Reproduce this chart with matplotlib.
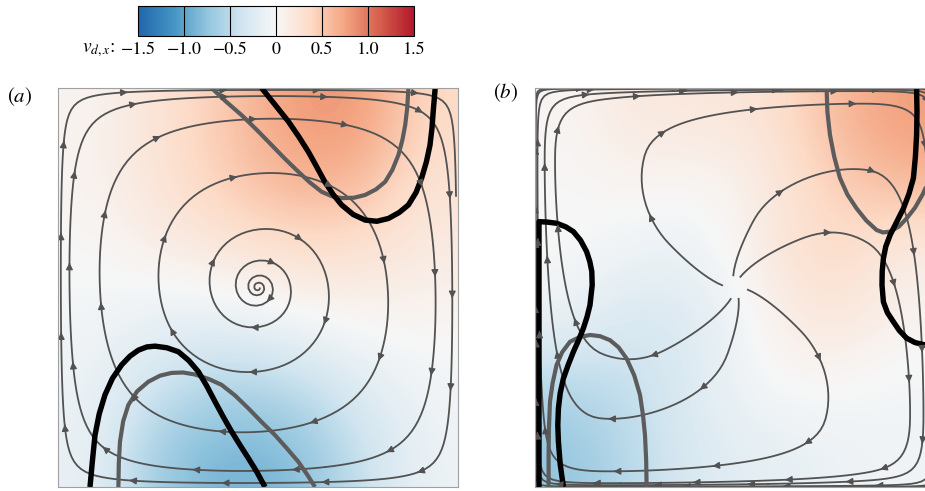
import numpy as np
import matplotlib
matplotlib.use('Agg')
import matplotlib.pyplot as plt
from matplotlib.colors import Normalize, LinearSegmentedColormap
from matplotlib.cm import ScalarMappable
from matplotlib.patches import FancyArrowPatch

plt.rcParams['font.family'] = ['STIXGeneral', 'DejaVu Serif']
plt.rcParams['mathtext.fontset'] = 'stix'

# colour bar
cb_ticks = [-1.5, -1.0, -0.5, 0, 0.5, 1.0, 1.5]
cb_labels = ['\u22121.5', '\u22121.0', '\u22120.5', '0', '0.5', '1.0', '1.5']
cb_colors = ['#2166ac', '#4393c3', '#92c5de', '#d1e5f0', '#f7f7f7',
             '#fddbc7', '#f4a582', '#d6604d', '#b2182b']

# v_dx, rows top -> bottom, cols left -> right
va_field = np.array([
    [0.05, 0.25, 0.50, 0.80, 0.85, 0.35],
    [0.05, 0.25, 0.45, 0.65, 0.60, 0.25],
    [0.00, 0.10, 0.20, 0.28, 0.28, 0.15],
    [-0.05, -0.15, -0.15, -0.05, 0.04, 0.04],
    [-0.10, -0.40, -0.60, -0.52, -0.25, -0.06],
    [-0.12, -0.70, -0.90, -0.85, -0.45, -0.10],
])
vb_field = np.array([
    [0.03, 0.20, 0.20, 0.25, 0.60, 0.80],
    [0.00, 0.06, 0.00, 0.15, 0.45, 0.60],
    [0.00, -0.12, -0.12, 0.20, 0.38, 0.12],
    [-0.12, -0.32, -0.25, 0.06, 0.25, 0.06],
    [-0.55, -0.45, -0.20, 0.00, 0.00, -0.06],
    [-0.75, -0.50, -0.25, -0.18, -0.12, -0.06],
])

# flow on a 7x7 grid (rows bottom -> top)
ua = np.array([
    [0, -.5, -.866, -1, -.866, -.5, 0],
    [0, -.463, -.780, -.866, -.720, -.403, 0],
    [0, -.303, -.486, -.5, -.381, -.198, 0],
    [0, -.061, -.061, 0, .061, .061, 0],
    [0, .198, .381, .5, .486, .303, 0],
    [0, .403, .720, .866, .780, .463, 0],
    [0, .5, .866, 1, .866, .5, 0],
])
va = np.array([
    [0, 0, 0, 0, 0, 0, 0],
    [.5, .403, .198, -.061, -.303, -.463, -.5],
    [.866, .720, .381, -.061, -.486, -.780, -.866],
    [1, .866, .5, 0, -.5, -.866, -1],
    [.866, .780, .486, .061, -.381, -.720, -.866],
    [.5, .463, .303, .061, -.198, -.403, -.5],
    [0, 0, 0, 0, 0, 0, 0],
])
ub = np.array([
    [0, -.5, -.866, -1, -.866, -.5, 0],
    [0, -.325, -.452, -.346, -.148, -.021, 0],
    [0, -.3625, -.3275, -.075, .1975, .1625, 0],
    [0, -.303, -.303, 0, .303, .303, 0],
    [0, -.1625, -.1975, .075, .3275, .3625, 0],
    [0, .021, .148, .346, .452, .325, 0],
    [0, .5, .866, 1, .866, .5, 0],
])
vb = np.array([
    [0, 0, 0, 0, 0, 0, 0],
    [.5, .021, -.1625, -.303, -.3625, -.325, -.5],
    [.866, .148, -.1975, -.303, -.3275, -.452, -.866],
    [1, .346, .075, 0, -.075, -.346, -1],
    [.866, .452, .3275, .303, .1975, -.148, -.866],
    [.5, .325, .3625, .303, .1625, -.021, -.5],
    [0, 0, 0, 0, 0, 0, 0],
])

# streamline seeds
a_seeds = [(0.505, 0.50)]
b_seeds = [(0.515, 0.50), (0.485, 0.50), (0.4955, 0.5143), (0.4971, 0.4853),
           (0.5046, 0.5143), (0.5068, 0.4866)]

# thick contour lines (x, y)
a_black_top = [(0.509, 1.0), (0.545, 0.955), (0.576, 0.916), (0.602, 0.878), (0.626, 0.840),
               (0.647, 0.802), (0.667, 0.765), (0.688, 0.733), (0.709, 0.707), (0.738, 0.683),
               (0.768, 0.669), (0.797, 0.666), (0.826, 0.673), (0.853, 0.688), (0.876, 0.707),
               (0.895, 0.738), (0.909, 0.774), (0.921, 0.815), (0.930, 0.857), (0.935, 0.900),
               (0.938, 0.941), (0.943, 1.0)]
a_gray_top = [(0.384, 1.0), (0.420, 0.966), (0.459, 0.932), (0.497, 0.895), (0.534, 0.857),
              (0.568, 0.822), (0.601, 0.790), (0.630, 0.763), (0.659, 0.740), (0.684, 0.729),
              (0.709, 0.724), (0.740, 0.725), (0.768, 0.732), (0.795, 0.746), (0.818, 0.765),
              (0.836, 0.795), (0.851, 0.832), (0.861, 0.870), (0.868, 0.907), (0.873, 0.950),
              (0.876, 1.0)]
a_black_bot = [(0.080, 0.0), (0.086, 0.065), (0.0925, 0.130), (0.103, 0.183), (0.1175, 0.231),
               (0.136, 0.272), (0.159, 0.306), (0.180, 0.328), (0.201, 0.343), (0.222, 0.351),
               (0.2425, 0.353), (0.272, 0.349), (0.301, 0.339), (0.327, 0.317), (0.351, 0.289),
               (0.372, 0.253), (0.3925, 0.214), (0.413, 0.176), (0.434, 0.139), (0.455, 0.105),
               (0.476, 0.072), (0.497, 0.038), (0.5175, 0.0)]
a_gray_bot = [(0.151, 0.0), (0.152, 0.060), (0.155, 0.114), (0.163, 0.165), (0.176, 0.206),
              (0.198, 0.240), (0.226, 0.264), (0.255, 0.279), (0.284, 0.286), (0.3125, 0.287),
              (0.3425, 0.282), (0.376, 0.271), (0.409, 0.256), (0.443, 0.229), (0.476, 0.197),
              (0.509, 0.163), (0.5425, 0.130), (0.572, 0.097), (0.601, 0.063), (0.623, 0.031),
              (0.6425, 0.0)]
b_black_left = [(0.010, 0.0), (0.010, 0.33), (0.010, 0.665), (0.030, 0.664), (0.054, 0.661),
                (0.077, 0.652), (0.096, 0.640), (0.114, 0.618), (0.129, 0.590), (0.137, 0.565),
                (0.142, 0.540), (0.143, 0.506), (0.1375, 0.456), (0.130, 0.426), (0.121, 0.398),
                (0.109, 0.368), (0.096, 0.339), (0.083, 0.306), (0.071, 0.272), (0.063, 0.235),
                (0.0585, 0.197), (0.057, 0.155), (0.0585, 0.114), (0.063, 0.057), (0.071, 0.0)]
b_black_right = [(0.954, 1.0), (0.955, 0.94), (0.954, 0.882), (0.951, 0.828), (0.946, 0.774),
                 (0.935, 0.735), (0.921, 0.698), (0.904, 0.664), (0.888, 0.632), (0.877, 0.603),
                 (0.871, 0.573), (0.868, 0.540), (0.8675, 0.506), (0.871, 0.464), (0.881, 0.437),
                 (0.896, 0.414), (0.911, 0.392), (0.929, 0.373), (0.950, 0.362), (0.975, 0.356),
                 (1.0, 0.352)]
b_gray_top = [(0.729, 1.0), (0.731, 0.94), (0.7375, 0.882), (0.748, 0.828), (0.7625, 0.774),
              (0.781, 0.733), (0.804, 0.698), (0.828, 0.668), (0.854, 0.644), (0.870, 0.638),
              (0.8875, 0.640), (0.910, 0.653), (0.929, 0.673), (0.950, 0.700), (0.970, 0.735),
              (0.990, 0.780), (1.0, 0.800)]
b_gray_bot = [(0.279, 0.0), (0.278, 0.065), (0.275, 0.130), (0.270, 0.180), (0.2625, 0.231),
              (0.248, 0.280), (0.229, 0.322), (0.209, 0.350), (0.1875, 0.368), (0.1625, 0.378),
              (0.1375, 0.381), (0.112, 0.376), (0.0875, 0.364), (0.068, 0.338), (0.054, 0.306),
              (0.044, 0.260), (0.0375, 0.214), (0.035, 0.15), (0.034, 0.088), (0.034, 0.0)]

cmap = LinearSegmentedColormap.from_list('rdbu9', cb_colors)
norm = Normalize(-1.5, 1.5)
line_col = '#525252'

fig = plt.figure(figsize=(9.25, 4.91), dpi=100)
ax_a = fig.add_axes([58/925, 4/491, 400/925, 399/491])
ax_b = fig.add_axes([535/925, 4/491, 400/925, 399/491])
cax = fig.add_axes([138/925, 1-36/491, 276/925, 30/491])

gx = np.linspace(0, 1, 7)


def add_arrows(ax, lc, step=0.24):
    # several arrows along each streamline
    for seg in lc.get_segments():
        if len(seg) < 3:
            continue
        d = np.hypot(np.diff(seg[:, 0]), np.diff(seg[:, 1]))
        s = np.concatenate([[0], np.cumsum(d)])
        L = s[-1]
        n = max(1, int(L / step))
        for k in range(1, n):
            i = np.searchsorted(s, k * step)
            i = min(max(i, 1), len(seg) - 2)
            ar = FancyArrowPatch(seg[i], seg[i + 1], arrowstyle='-|>', mutation_scale=10,
                                 color=line_col, lw=1.0, zorder=2.1)
            ax.add_patch(ar)


def panel(ax, field, u, v, seeds, maxlen, black, gray):
    ax.imshow(field, cmap=cmap, norm=norm, extent=(0, 1, 0, 1), origin='upper',
              interpolation='bicubic', aspect='auto')
    sp = ax.streamplot(gx, gx, u, v, start_points=seeds, density=2, color=line_col,
                       linewidth=1.3, arrowsize=0.01, arrowstyle='-',
                       integration_direction='forward', broken_streamlines=False,
                       maxlength=maxlen)
    add_arrows(ax, sp.lines)
    for c in gray:
        xs, ys = zip(*c)
        ax.plot(xs, ys, color='#5c5c5c', lw=3.0, solid_capstyle='butt', solid_joinstyle='round')
    for c in black:
        xs, ys = zip(*c)
        ax.plot(xs, ys, color='k', lw=3.9, solid_capstyle='butt', solid_joinstyle='round')
    ax.set_xlim(0, 1)
    ax.set_ylim(0, 1)
    ax.set_xticks([])
    ax.set_yticks([])
    for s in ax.spines.values():
        s.set_color('#a0a0a0')
        s.set_linewidth(0.8)


panel(ax_a, va_field, ua, va, a_seeds, 13.0, [a_black_top, a_black_bot], [a_gray_top, a_gray_bot])
panel(ax_b, vb_field, ub, vb, b_seeds, 3.5, [b_black_left, b_black_right], [b_gray_top, b_gray_bot])

sm = ScalarMappable(norm=norm, cmap=cmap)
cb = fig.colorbar(sm, cax=cax, orientation='horizontal')
cb.set_ticks(cb_ticks)
cb.set_ticklabels(cb_labels)
cax.tick_params(length=0, pad=4, labelsize=13)
cb.outline.set_linewidth(0.8)
for t in cb_ticks[1:-1]:
    cax.axvline(t, color='k', lw=0.8)

fig.text(116/925, 1-50/491, r'$v_{d,x}$:', ha='right', va='center', fontsize=14)
fig.text(20/925, 1-97/491, r'($a$)', ha='center', va='center', fontsize=15)
fig.text(506/925, 1-93/491, r'($b$)', ha='center', va='center', fontsize=15)

fig.savefig('out.png', dpi=100)
